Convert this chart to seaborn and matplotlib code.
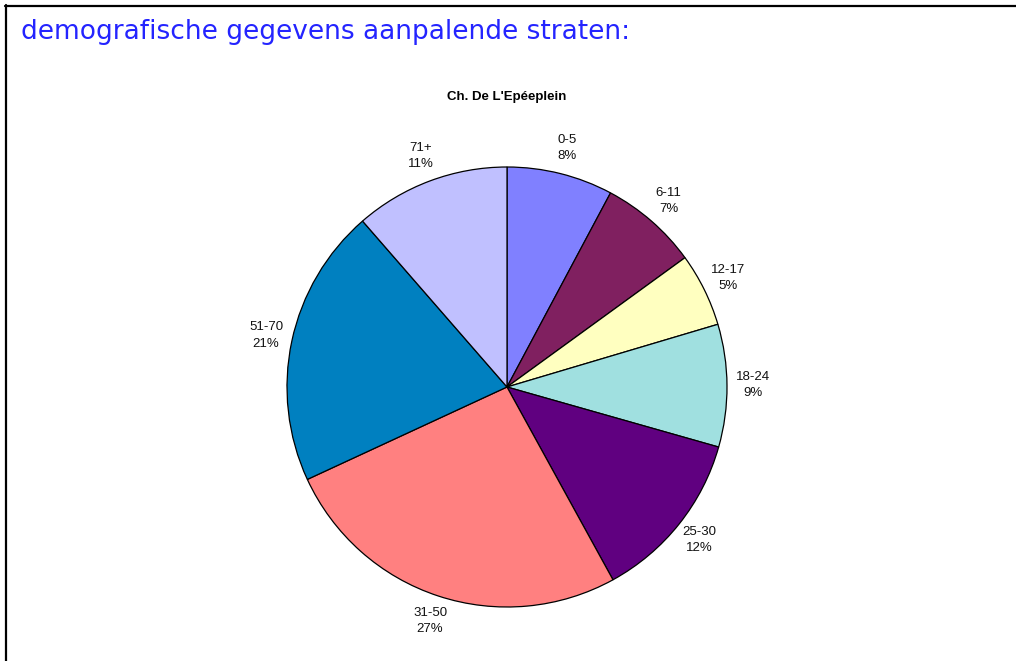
import matplotlib
matplotlib.use("Agg")
import matplotlib.pyplot as plt
import seaborn as sns
import numpy as np
from matplotlib.lines import Line2D

age_groups = ["0-5", "6-11", "12-17", "18-24", "25-30", "31-50", "51-70", "71+"]
shares = [7.8, 7.2, 5.4, 9.0, 12.6, 26.1, 20.5, 11.4]
pct_text = ["8%", "7%", "5%", "9%", "12%", "27%", "21%", "11%"]
slice_colors = ["#8080FF", "#802060", "#FFFFC0", "#A0E0E0",
                "#600080", "#FF8080", "#0080C0", "#C0C0FF"]

page_title = "demografische gegevens aanpalende straten:"
chart_title = "Ch. De L'Epéeplein"

sns.set_style("white")
plt.rcParams['font.family'] = ['Liberation Sans', 'DejaVu Sans']

W, H = 1016, 661
fig = plt.figure(figsize=(W / 100, H / 100), dpi=100)
fig.patch.set_facecolor("white")

# pie center (507, 387) px, radius 220 px
cx, cy, R = 507, 387, 220
ax = fig.add_axes([(cx - R) / W, (H - cy - R) / H, 2 * R / W, 2 * R / H])

palette = sns.color_palette(slice_colors)
wedges, _ = ax.pie(shares, colors=palette, startangle=90, counterclock=False,
                   radius=1, wedgeprops=dict(edgecolor="black", linewidth=0.9))
ax.set_xlim(-1, 1)
ax.set_ylim(-1, 1)
ax.set_aspect("equal")
ax.axis("off")

# labels buiten de taart
for w, grp, pct in zip(wedges, age_groups, pct_text):
    ang = np.deg2rad((w.theta1 + w.theta2) / 2)
    ax.text(1.12 * np.cos(ang), 1.12 * np.sin(ang), f"{grp}\n{pct}",
            ha="center", va="center", fontsize=9.5, color="#111111",
            linespacing=1.45, clip_on=False)

fig.text(cx / W, 1 - 97 / H, chart_title, ha="center", va="center",
         fontsize=9.5, fontweight="bold", color="black")

fig.text(21 / W, 1 - 32 / H, page_title, ha="left", va="center",
         fontsize=19, color="#2424FF",
         family=['DejaVu Sans'])

# kader links en boven
fig.add_artist(Line2D([5 / W, 1], [1 - 6 / H, 1 - 6 / H], color="black", linewidth=1.6))
fig.add_artist(Line2D([6 / W, 6 / W], [0, 1 - 5 / H], color="black", linewidth=1.6))

fig.savefig("out.png", dpi=100, facecolor="white")
